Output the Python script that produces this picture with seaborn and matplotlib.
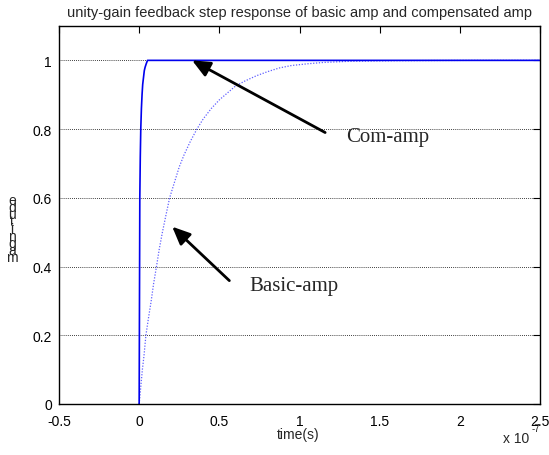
import matplotlib
matplotlib.use("Agg")
import matplotlib.pyplot as plt
import seaborn as sns
import pandas as pd

# time in units of 1e-7 s
t_basic = [0.0, 0.01, 0.02, 0.03, 0.042, 0.058, 0.075, 0.09, 0.108, 0.125, 0.145,
           0.165, 0.19, 0.22, 0.25, 0.28, 0.32, 0.36, 0.40, 0.45, 0.50, 0.55,
           0.60, 0.66, 0.73, 0.80, 0.875, 0.95, 1.05, 1.15, 1.3, 1.45, 1.6,
           1.8, 2.1, 2.5]
y_basic = [0.0, 0.05, 0.10, 0.14, 0.20, 0.25, 0.30, 0.35, 0.40, 0.45, 0.50,
           0.545, 0.60, 0.645, 0.69, 0.725, 0.765, 0.80, 0.83, 0.86, 0.885, 0.905,
           0.925, 0.94, 0.955, 0.967, 0.978, 0.985, 0.99, 0.994, 0.997, 0.998, 0.999,
           0.9995, 1.0, 1.0]

t_comp = [0.0, 0.001, 0.002, 0.004, 0.007, 0.01, 0.014, 0.018, 0.022, 0.027,
          0.032, 0.037, 0.044, 0.052, 0.08, 2.5]
y_comp = [0.0, 0.15, 0.30, 0.60, 0.72, 0.80, 0.86, 0.90, 0.93, 0.95,
          0.97, 0.98, 0.99, 1.0, 1.0, 1.0]

x_ticks = [-0.5, 0, 0.5, 1, 1.5, 2, 2.5]
x_ticklabels = ["-0.5", "0", "0.5", "1", "1.5", "2", "2.5"]
y_ticks = [0, 0.2, 0.4, 0.6, 0.8, 1]
y_ticklabels = ["0", "0.2", "0.4", "0.6", "0.8", "1"]

title = "unity-gain feedback step response of basic amp and compensated amp"
xlabel = "time(s)"
ylabel = "magnitude"

sns.set_theme(style="white")
plt.rcParams["font.family"] = ["Liberation Sans", "DejaVu Sans"]

df_b = pd.DataFrame({"t": t_basic, "y": y_basic})
df_c = pd.DataFrame({"t": t_comp, "y": y_comp})

fig = plt.figure(figsize=(5.49, 4.56), dpi=100)
ax = fig.add_axes([59 / 549, 1 - 405 / 456, (540 - 59) / 549, (405 - 27) / 456])

sns.lineplot(data=df_b, x="t", y="y", ax=ax, color="#6060ff", lw=0.9,
             linestyle=(0, (1, 1.3)), estimator=None, sort=False)
sns.lineplot(data=df_c, x="t", y="y", ax=ax, color="#0000ee", lw=1.2,
             estimator=None, sort=False)

ax.set_xlim(-0.5, 2.5)
ax.set_ylim(0, 1.1)
ax.set_xticks(x_ticks)
ax.set_xticklabels(x_ticklabels)
ax.set_yticks(y_ticks)
ax.set_yticklabels(y_ticklabels)
ax.set_xlabel("")
ax.set_ylabel("")
ax.tick_params(direction="in", length=5, width=0.8, top=True, right=True,
               labelsize=10, colors="black")
ax.tick_params(axis="x", pad=7)
ax.tick_params(axis="y", pad=5)
for s in ax.spines.values():
    s.set_visible(True)
    s.set_color("black")
    s.set_linewidth(1.0)
ax.yaxis.grid(True, color="black", linestyle=(0, (1, 1.5)), linewidth=0.6)
ax.xaxis.grid(False)

ax.set_title(title, fontsize=10.5, pad=7)
fig.text(298 / 549, 1 - 435 / 456, xlabel, ha="center", va="center", fontsize=10)
fig.text(503 / 549, 1 - 439 / 456, "x 10", ha="left", va="center", fontsize=10)
fig.text(532 / 549, 1 - 429 / 456, "-7", ha="left", va="center", fontsize=7)

# stacked (overlapping) y label letters, as in the reference
for i, ch in enumerate(ylabel):
    fig.text(12 / 549, 1 - (258 - i * 7.1) / 456, ch, ha="center", va="center",
             fontsize=10)

times = ["Liberation Serif", "DejaVu Serif"]
ax.annotate("", xy=(0.33, 1.0), xytext=(1.16, 0.79),
            arrowprops=dict(arrowstyle="-|>,head_length=0.9,head_width=0.4",
                            color="black", lw=2, shrinkA=0, shrinkB=0))
ax.text(1.29, 0.778, "Com-amp", ha="left", va="center", fontsize=15,
        family=times)
ax.annotate("", xy=(0.206, 0.516), xytext=(0.5625, 0.359),
            arrowprops=dict(arrowstyle="-|>,head_length=0.9,head_width=0.4",
                            color="black", lw=2, shrinkA=0, shrinkB=0))
ax.text(0.6875, 0.344, "Basic-amp", ha="left", va="center", fontsize=15,
        family=times)

fig.savefig("out.png", dpi=100)
